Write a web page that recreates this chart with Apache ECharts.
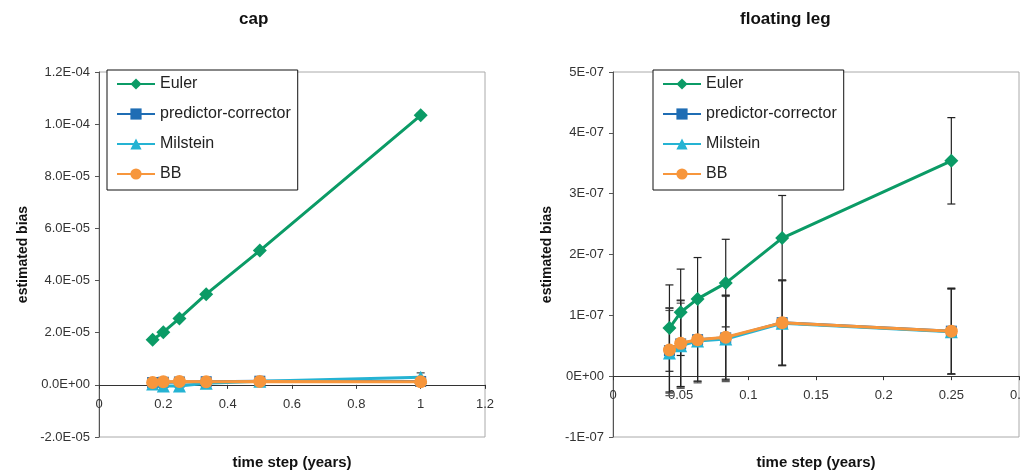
<!DOCTYPE html>
<html>
<head>
<meta charset="utf-8">
<script src="https://cdn.jsdelivr.net/npm/echarts@6/dist/echarts.min.js"></script>
<style>
html,body{margin:0;padding:0;background:#fff;}
#chart{width:1020px;height:471px;}
</style>
</head>
<body>
<div id="chart"></div>
<script>
// ---------- data ----------
const seriesNames = ['Euler', 'predictor-corrector', 'Milstein', 'BB'];

const capX = [0.1667, 0.2, 0.25, 0.3333, 0.5, 1];
const capEuler = [1.73e-5, 2.02e-5, 2.55e-5, 3.48e-5, 5.15e-5, 1.034e-4];
const capPC = [0.9e-6, 1.0e-6, 1.1e-6, 1.2e-6, 1.4e-6, 1.3e-6];
const capMilstein = [0.3e-6, -0.4e-6, -0.4e-6, 0.6e-6, 1.4e-6, 2.9e-6];
const capBB = [0.9e-6, 1.2e-6, 1.3e-6, 1.2e-6, 1.3e-6, 1.2e-6];
const capEulerErr = [0.6e-6, 0.6e-6, 0.6e-6, 0.6e-6, 0.7e-6, 0.8e-6];
const capPCErr = [0.5e-6, 0.5e-6, 0.5e-6, 0.5e-6, 0.5e-6, 0.6e-6];
const capMilsteinErr = [0.5e-6, 0.5e-6, 0.5e-6, 0.5e-6, 0.6e-6, 1.7e-6];
const capBBErr = [0.4e-6, 0.4e-6, 0.4e-6, 0.4e-6, 0.4e-6, 0.5e-6];

const floatX = [0.0417, 0.05, 0.0625, 0.0833, 0.125, 0.25];
const floatEuler = [0.79e-7, 1.05e-7, 1.27e-7, 1.53e-7, 2.27e-7, 3.54e-7];
const floatPC = [0.42e-7, 0.53e-7, 0.60e-7, 0.63e-7, 0.88e-7, 0.74e-7];
const floatMilstein = [0.38e-7, 0.50e-7, 0.58e-7, 0.61e-7, 0.87e-7, 0.73e-7];
const floatBB = [0.43e-7, 0.54e-7, 0.60e-7, 0.64e-7, 0.88e-7, 0.74e-7];
const floatEulerErr = [0.71e-7, 0.71e-7, 0.68e-7, 0.72e-7, 0.70e-7, 0.71e-7];
const floatPCErr = [0.70e-7, 0.71e-7, 0.69e-7, 0.70e-7, 0.70e-7, 0.71e-7];
const floatMilsteinErr = [0.70e-7, 0.70e-7, 0.69e-7, 0.70e-7, 0.70e-7, 0.70e-7];
const floatBBErr = [0.69e-7, 0.71e-7, 0.68e-7, 0.69e-7, 0.70e-7, 0.70e-7];

const capYRange = [-2e-5, 1.2e-4, 2e-5];   // min, max, interval
const floatYRange = [-1e-7, 5e-7, 1e-7];
const capXRange = [0, 1.2, 0.2];
const floatXRange = [0, 0.3, 0.05];

const titles = ['cap', 'floating leg'];
const xName = 'time step (years)';
const yName = 'estimated bias';

// ---------- styles ----------
const FONT = 'Liberation Sans, Arial, sans-serif';
const colors = ['#0b9b66', '#1f6db4', '#25b3d3', '#f7963c'];
const symbols = ['diamond', 'rect', 'triangle', 'circle'];
const symSizes = [14, 11, 13, 13];
const GRID_H = 365;

function expFmt(digits) {
  return function (v) {
    let s = Number(v).toExponential(digits).toUpperCase();
    return s.replace(/E([+-])(\d)$/, 'E$10$2');
  };
}

function lineSeries(xs, ys, idx, g) {
  return {
    type: 'line', name: seriesNames[idx],
    xAxisIndex: g, yAxisIndex: g,
    data: xs.map((x, i) => [x, ys[i]]),
    symbol: symbols[idx], symbolSize: symSizes[idx],
    lineStyle: { color: colors[idx], width: 3 },
    itemStyle: { color: colors[idx] },
    z: 3 + idx, animation: false
  };
}

function errSeries(xs, ys, es, g, color) {
  return {
    type: 'custom', name: 'err',
    xAxisIndex: g, yAxisIndex: g,
    data: xs.map((x, i) => [x, ys[i] - es[i], ys[i] + es[i]]),
    renderItem: function (params, api) {
      const x = api.value(0);
      const lo = api.coord([x, api.value(1)]);
      const hi = api.coord([x, api.value(2)]);
      const w = 4;
      const st = { stroke: color, lineWidth: 1.2 };
      return {
        type: 'group', children: [
          { type: 'line', shape: { x1: hi[0], y1: hi[1], x2: lo[0], y2: lo[1] }, style: st },
          { type: 'line', shape: { x1: hi[0] - w, y1: hi[1], x2: hi[0] + w, y2: hi[1] }, style: st },
          { type: 'line', shape: { x1: lo[0] - w, y1: lo[1], x2: lo[0] + w, y2: lo[1] }, style: st }
        ]
      };
    },
    z: 2, animation: false, silent: true
  };
}

const axisLineStyle = { color: '#555', width: 1 };
const labelStyle = { color: '#333', fontSize: 13, fontFamily: FONT };
const nameStyle = { color: '#111', fontSize: 14, fontWeight: 'bold', fontFamily: FONT };

// place the x axis on the y = 0 line (offset derived from the y scale)
function zeroOffset(yr) {
  return -((0 - yr[0]) / (yr[1] - yr[0])) * GRID_H;
}

function xAxis(g, xr, yr, nameGap) {
  return {
    type: 'value', gridIndex: g, min: xr[0], max: xr[1], interval: xr[2],
    offset: zeroOffset(yr),
    axisLine: { show: true, onZero: false, lineStyle: { color: '#333', width: 1 } },
    axisTick: { show: true, length: 4, lineStyle: { color: '#333' } },
    axisLabel: Object.assign({ margin: 13 }, labelStyle),
    splitLine: { show: false },
    name: xName, nameLocation: 'middle', nameGap: nameGap,
    nameTextStyle: Object.assign({}, nameStyle, { fontSize: 15 })
  };
}
function yAxis(g, yr, fmt, nameGap) {
  return {
    type: 'value', gridIndex: g, min: yr[0], max: yr[1], interval: yr[2],
    axisLine: { show: true, onZero: false, lineStyle: axisLineStyle },
    axisTick: { show: true, length: 4, lineStyle: { color: '#555' } },
    axisLabel: Object.assign({ margin: 9, formatter: fmt }, labelStyle),
    splitLine: { show: false },
    name: yName, nameLocation: 'middle', nameGap: nameGap,
    nameTextStyle: nameStyle
  };
}

function legend(left) {
  return {
    data: seriesNames, orient: 'vertical', left: left, top: 70,
    backgroundColor: '#fff', borderColor: '#111', borderWidth: 1,
    padding: [6, 7, 8, 9], itemWidth: 38, itemHeight: 14, itemGap: 14,
    textStyle: { fontSize: 16, color: '#222', fontFamily: FONT },
    selectedMode: false
  };
}

const option = {
  animation: false,
  backgroundColor: '#fff',
  graphic: [
    { type: 'text', left: 239, top: 11, style: { text: titles[0], font: 'bold 17px ' + FONT, fill: '#111' } },
    { type: 'text', left: 740, top: 11, style: { text: titles[1], font: 'bold 17px ' + FONT, fill: '#111' } }
  ],
  grid: [
    { left: 99, top: 72, width: 386, height: GRID_H, show: true, borderColor: '#aaa', borderWidth: 1, backgroundColor: 'transparent', outerBoundsMode: 'none', containLabel: false },
    { left: 613, top: 72, width: 406, height: GRID_H, show: true, borderColor: '#aaa', borderWidth: 1, backgroundColor: 'transparent', outerBoundsMode: 'none', containLabel: false }
  ],
  legend: [legend(107), legend(653)],
  xAxis: [xAxis(0, capXRange, capYRange, 71), xAxis(1, floatXRange, floatYRange, 79)],
  yAxis: [
    yAxis(0, capYRange, expFmt(1), 69),
    yAxis(1, floatYRange, expFmt(0), 59)
  ],
  series: [
    errSeries(capX, capEuler, capEulerErr, 0, '#222'),
    errSeries(capX, capPC, capPCErr, 0, '#444'),
    errSeries(capX, capMilstein, capMilsteinErr, 0, '#444'),
    errSeries(capX, capBB, capBBErr, 0, '#222'),
    lineSeries(capX, capEuler, 0, 0),
    lineSeries(capX, capPC, 1, 0),
    lineSeries(capX, capMilstein, 2, 0),
    lineSeries(capX, capBB, 3, 0),
    errSeries(floatX, floatEuler, floatEulerErr, 1, '#222'),
    errSeries(floatX, floatPC, floatPCErr, 1, '#555'),
    errSeries(floatX, floatMilstein, floatMilsteinErr, 1, '#555'),
    errSeries(floatX, floatBB, floatBBErr, 1, '#222'),
    lineSeries(floatX, floatEuler, 0, 1),
    lineSeries(floatX, floatPC, 1, 1),
    lineSeries(floatX, floatMilstein, 2, 1),
    lineSeries(floatX, floatBB, 3, 1)
  ]
};

const chart = echarts.init(document.getElementById('chart'), null, { renderer: 'canvas' });
chart.setOption(option);
</script>
</body>
</html>
